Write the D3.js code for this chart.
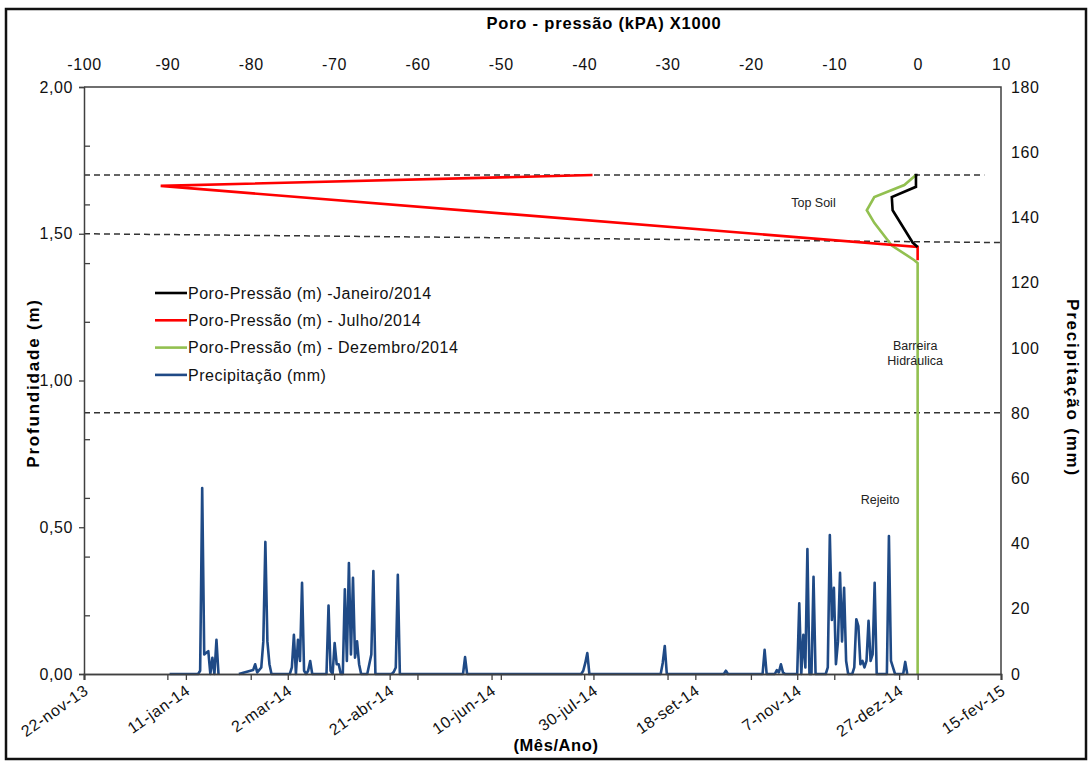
<!DOCTYPE html>
<html>
<head>
<meta charset="utf-8">
<script src="https://cdn.jsdelivr.net/npm/d3@7"></script>
<style>
  body { margin: 0; background: #fff; }
  svg { font-family: 'Liberation Sans', Arial, sans-serif; }
</style>
</head>
<body>
<svg id="chart" width="1091" height="763"></svg>
<script>
(function () {
  'use strict';

  // eixo inferior (datas)
  var dateTickLabels = ['22-nov-13', '11-jan-14', '2-mar-14', '21-abr-14', '10-jun-14',
    '30-jul-14', '18-set-14', '7-nov-14', '27-dez-14', '15-fev-15'];
  var pressureTicks = [-100, -90, -80, -70, -60, -50, -40, -30, -20, -10, 0, 10];
  var depthTicks = [0, 0.5, 1, 1.5, 2];
  var depthMinorTicks = [0.2, 0.4, 0.6, 0.8, 1.2, 1.4, 1.6, 1.8];
  var precipTicks = [0, 20, 40, 60, 80, 100, 120, 140, 160, 180];

  // poro-pressao (kPa x1000) vs profundidade (m)
  var janPressure = [0, -0.2, -0.2, -3.1, -3.0, -0.6, 0];
  var janDepth = [1.70, 1.70, 1.66, 1.625, 1.58, 1.47, 1.455];
  var julPressure = [-39, -90.8, 0, 0];
  var julDepth = [1.70, 1.663, 1.455, 1.41];
  var dezPressure = [-0.2, -1.6, -5.2, -6.1, -5.2, -3.1, -0.4, 0, 0];
  var dezDepth = [1.70, 1.666, 1.625, 1.58, 1.537, 1.46, 1.41, 1.40, 0];

  // limites das camadas (profundidade no inicio / fim, pressao final)
  var layerStart = [1.70, 1.50, 0.89];
  var layerEnd = [1.70, 1.47, 0.89];
  var layerEndPressure = [8, 10, 10];

  // precipitacao diaria (mm); null = sem registro
  var precipDates = [
    '2014-01-03', '2014-01-17', '2014-01-18', '2014-01-19', '2014-01-20', '2014-01-21',
    '2014-01-22', '2014-01-23', '2014-01-24', '2014-01-25', '2014-01-26', '2014-01-27',
    '2014-02-01', '2014-02-06', '2014-02-13', '2014-02-14', '2014-02-15', '2014-02-17',
    '2014-02-18', '2014-02-19', '2014-02-20', '2014-02-21', '2014-02-22', '2014-03-03',
    '2014-03-04', '2014-03-05', '2014-03-06', '2014-03-07', '2014-03-08', '2014-03-09',
    '2014-03-10', '2014-03-11', '2014-03-12', '2014-03-13', '2014-03-14', '2014-03-20',
    '2014-03-21', '2014-03-22', '2014-03-23', '2014-03-24', '2014-03-25', '2014-03-26',
    '2014-03-27', '2014-03-28', '2014-03-29', '2014-03-30', '2014-03-31', '2014-04-01',
    '2014-04-02', '2014-04-03', '2014-04-04', '2014-04-05', '2014-04-06', '2014-04-07',
    '2014-04-10', '2014-04-12', '2014-04-13', '2014-04-14', '2014-04-22', '2014-04-23',
    '2014-04-24', '2014-04-25', '2014-04-26', '2014-05-27', '2014-05-28', '2014-05-29',
    '2014-07-24', '2014-07-25', '2014-07-26', '2014-07-27', '2014-07-28', '2014-09-01',
    '2014-09-02', '2014-09-03', '2014-09-04', '2014-10-02', '2014-10-03', '2014-10-04',
    '2014-10-21', '2014-10-22', '2014-10-23', '2014-10-27', '2014-10-28', '2014-10-29',
    '2014-10-30', '2014-10-31', '2014-11-01', '2014-11-07', '2014-11-08', '2014-11-09',
    '2014-11-10', '2014-11-11', '2014-11-12', '2014-11-13', '2014-11-14', '2014-11-15',
    '2014-11-16', '2014-11-21', '2014-11-22', '2014-11-23', '2014-11-24', '2014-11-25',
    '2014-11-26', '2014-11-27', '2014-11-28', '2014-11-29', '2014-11-30', '2014-12-01',
    '2014-12-02', '2014-12-04', '2014-12-05', '2014-12-06', '2014-12-07', '2014-12-08',
    '2014-12-09', '2014-12-10', '2014-12-11', '2014-12-12', '2014-12-13', '2014-12-14',
    '2014-12-15', '2014-12-16', '2014-12-21', '2014-12-22', '2014-12-23', '2014-12-24',
    '2014-12-25', '2014-12-29', '2014-12-30', '2014-12-31'
  ];
  var precipMm = [
    0, 0, 1, 57, 6, 6.5,
    7, 0, 5, 0, 10.5, 0,
    null, 0, 1.2, 3, 0.5, 2,
    10, 40.5, 10, 3, 0, 0,
    2, 12, 0, 10.5, 4, 28,
    1, 0, 1, 4, 0, 0,
    0, 21, 1, 0, 9.5, 3,
    3, 0, 0, 26, 4, 34,
    6, 29.5, 5, 10, 3, 0,
    0, 6, 31.6, 0, 0, 0.6,
    2, 30.4, 0, 0, 5.2, 0,
    0, 1, 3.4, 6.4, 0, 0,
    3.4, 8.6, 0, 0, 1, 0,
    0, 7.4, 0, 0, 1.2, 0.5,
    3, 0.5, 0, 0, 21.7, 0,
    12, 2, 38.3, 0, 0, 29.8,
    0, 0, 2, 42.6, 16.6, 26.4,
    3, 10, 31, 10, 26.4, 4,
    0, 0, 2, 16.8, 14.7, 3,
    4, 2, 4, 16.3, 4, 6,
    28, 0, 0, 42.3, 4, 2,
    0, 0, 3.7, 0
  ];

  var seriesNames = ['Poro-Pressão (m) -Janeiro/2014', 'Poro-Pressão (m) - Julho/2014',
    'Poro-Pressão (m) - Dezembro/2014', 'Precipitação (mm)'];
  var seriesColors = ['#000000', '#ff0000', '#92c050', '#1f4a86'];

  function draw () {
    var margin = { top: 87, right: 90, bottom: 89, left: 84 };
    var width = 1091 - margin.left - margin.right;
    var height = 763 - margin.top - margin.bottom;
    var parseDate = d3.timeParse('%Y-%m-%d');
    var startDate = parseDate('2013-11-22');
    var dateTicks = dateTickLabels.map(function (d, i) {
      return d3.timeDay.offset(startDate, 50 * i);
    });

    var xDate = d3.scaleTime()
      .domain([dateTicks[0], dateTicks[dateTicks.length - 1]])
      .range([0, width]);
    var xP = d3.scaleLinear().domain([-100, 10]).range([0, width]);
    var yD = d3.scaleLinear().domain([0, 2]).range([height, 0]);
    var yR = d3.scaleLinear().domain([0, 180]).range([height, 0]);

    var root = d3.select('#chart');

    // moldura
    root.append('rect')
      .attr('x', 6).attr('y', 9)
      .attr('width', 1080).attr('height', 750)
      .attr('fill', 'none')
      .attr('stroke', '#111')
      .attr('stroke-width', 2.5);

    var svg = root.append('g')
      .attr('transform', 'translate(' + margin.left + ',' + margin.top + ')');

    // bordas superior e direita
    svg.append('path')
      .attr('d', 'M0,0H' + width + 'V' + height)
      .attr('fill', 'none')
      .attr('stroke', '#404040')
      .attr('stroke-width', 1.5);

    // linhas tracejadas das camadas
    svg.selectAll('.layer')
      .data(layerStart)
      .enter()
      .append('line')
      .attr('class', 'layer')
      .attr('x1', xP(-100))
      .attr('y1', function (d) { return yD(d); })
      .attr('x2', function (d, i) { return xP(layerEndPressure[i]); })
      .attr('y2', function (d, i) { return yD(layerEnd[i]); })
      .attr('stroke', '#333')
      .attr('stroke-width', 1.5)
      .attr('stroke-dasharray', '6,4');

    // precipitacao
    var precip = precipDates.map(function (d, i) {
      return { date: parseDate(d), mm: precipMm[i] };
    });
    var precipLine = d3.line()
      .defined(function (d) { return d.mm !== null; })
      .x(function (d) { return xDate(d.date); })
      .y(function (d) { return yR(d.mm); });
    svg.append('path')
      .datum(precip)
      .attr('d', precipLine)
      .attr('fill', 'none')
      .attr('stroke', seriesColors[3])
      .attr('stroke-width', 2.6)
      .attr('stroke-linejoin', 'round');

    // poro-pressao
    var poroLine = d3.line()
      .x(function (d) { return xP(d[0]); })
      .y(function (d) { return yD(d[1]); });
    var poro = [
      d3.zip(dezPressure, dezDepth),
      d3.zip(julPressure, julDepth),
      d3.zip(janPressure, janDepth)
    ];
    var poroColors = [seriesColors[2], seriesColors[1], seriesColors[0]];
    svg.selectAll('.poro')
      .data(poro)
      .enter()
      .append('path')
      .attr('class', 'poro')
      .attr('d', poroLine)
      .attr('fill', 'none')
      .attr('stroke', function (d, i) { return poroColors[i]; })
      .attr('stroke-width', 2.6);

    // eixo esquerdo
    svg.append('g')
      .call(d3.axisLeft(yD).tickValues(depthTicks).tickSize(5).tickPadding(6)
        .tickFormat(function (d) { return d.toFixed(2).replace('.', ','); }));
    svg.append('g')
      .call(d3.axisRight(yD).tickValues(depthMinorTicks).tickSize(6).tickFormat(''))
      .call(function (g) { g.select('.domain').remove(); });

    // eixo direito
    var right = svg.append('g')
      .attr('transform', 'translate(' + width + ',0)')
      .call(d3.axisRight(yR).tickValues(precipTicks).tickSize(0).tickPadding(10));
    right.select('.domain').remove();

    // eixo superior
    var top = svg.append('g')
      .call(d3.axisTop(xP).tickValues(pressureTicks).tickSize(0).tickPadding(17)
        .tickFormat(function (d) { return String(d); }));
    top.select('.domain').remove();

    // eixo inferior
    svg.append('g')
      .attr('transform', 'translate(0,' + height + ')')
      .call(d3.axisBottom(xP).tickValues(pressureTicks).tickSize(6).tickFormat(''));
    var bottom = svg.append('g')
      .attr('transform', 'translate(0,' + height + ')')
      .call(d3.axisBottom(xDate).tickValues(dateTicks).tickSize(6)
        .tickFormat(function (d, i) { return dateTickLabels[i]; }));

    root.selectAll('.tick text')
      .attr('font-size', 16)
      .attr('letter-spacing', 0.6)
      .attr('font-family', "'Liberation Sans', Arial, sans-serif")
      .attr('fill', '#111');
    bottom.selectAll('text')
      .attr('text-anchor', 'end')
      .attr('dy', null)
      .attr('y', null)
      .attr('transform', 'translate(5,19) rotate(-35)');
    root.selectAll('.tick line').attr('stroke', '#404040').attr('stroke-width', 1.3);
    root.selectAll('.domain').attr('stroke', '#404040').attr('stroke-width', 1.5);

    // titulos
    root.append('text')
      .attr('x', 604).attr('y', 29)
      .attr('text-anchor', 'middle')
      .attr('font-size', 16.5).attr('font-weight', 'bold')
      .attr('letter-spacing', 0.8)
      .text('Poro - pressão (kPA) X1000');
    root.append('text')
      .attr('transform', 'translate(39,383) rotate(-90)')
      .attr('text-anchor', 'middle')
      .attr('font-size', 17).attr('font-weight', 'bold')
      .attr('letter-spacing', 1.8)
      .text('Profundidade (m)');
    root.append('text')
      .attr('transform', 'translate(1067,388) rotate(90)')
      .attr('text-anchor', 'middle')
      .attr('font-size', 17).attr('font-weight', 'bold')
      .attr('letter-spacing', 1.8)
      .text('Precipitação (mm)');
    root.append('text')
      .attr('x', 556).attr('y', 751)
      .attr('text-anchor', 'middle')
      .attr('font-size', 16.5).attr('font-weight', 'bold')
      .attr('letter-spacing', 0.6)
      .text('(Mês/Ano)');

    // anotacoes das camadas
    var notes = [
      { t: ['Top Soil'], p: -12.5, d: 1.59 },
      { t: ['Barreira', 'Hidráulica'], p: -0.3, d: 1.105 },
      { t: ['Rejeito'], p: -4.5, d: 0.58 }
    ];
    notes.forEach(function (n) {
      var txt = svg.append('text')
        .attr('x', xP(n.p)).attr('y', yD(n.d))
        .attr('text-anchor', 'middle')
        .attr('font-size', 12.5)
        .attr('fill', '#222');
      n.t.forEach(function (line, i) {
        txt.append('tspan')
          .attr('x', xP(n.p))
          .attr('dy', i === 0 ? 0 : 15)
          .text(line);
      });
    });

    // legenda
    var legend = root.append('g').attr('transform', 'translate(155,293)');
    var item = legend.selectAll('.item')
      .data(seriesNames)
      .enter()
      .append('g')
      .attr('transform', function (d, i) { return 'translate(0,' + (i * 27.3) + ')'; });
    item.append('line')
      .attr('x1', 0).attr('x2', 32)
      .attr('stroke', function (d, i) { return seriesColors[i]; })
      .attr('stroke-width', 2.6);
    item.append('text')
      .attr('x', 33).attr('dy', '0.35em')
      .attr('font-size', 16)
      .attr('letter-spacing', 0.5)
      .attr('fill', '#111')
      .text(function (d) { return d; });
  }

  window.addEventListener('load', draw);
}());
</script>
</body>
</html>
